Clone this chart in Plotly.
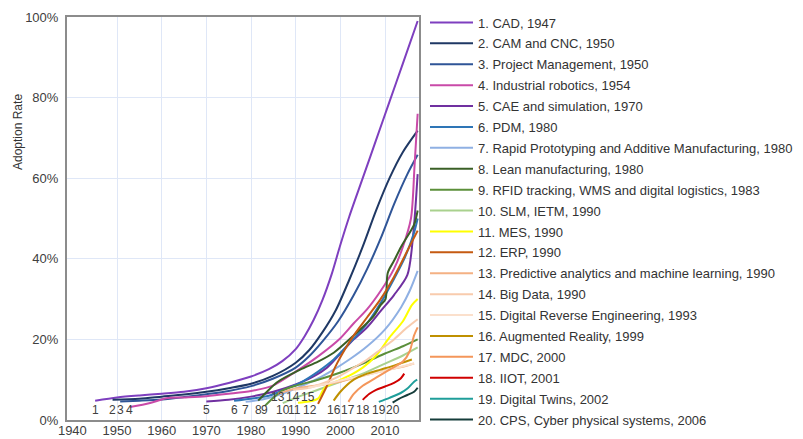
import plotly.graph_objects as go

# ---------------- data ----------------
names = [
    "1. CAD, 1947", "2. CAM and CNC, 1950", "3. Project Management, 1950",
    "4. Industrial robotics, 1954", "5. CAE and simulation, 1970", "6. PDM, 1980",
    "7. Rapid Prototyping and Additive Manufacturing, 1980", "8. Lean manufacturing, 1980",
    "9. RFID tracking, WMS and digital logistics, 1983", "10. SLM, IETM, 1990",
    "11. MES, 1990", "12. ERP, 1990", "13. Predictive analytics and machine learning, 1990",
    "14. Big Data, 1990", "15. Digital Reverse Engineering, 1993", "16. Augmented Reality, 1999",
    "17. MDC, 2000", "18. IIOT, 2001", "19. Digital Twins, 2002",
    "20. CPS, Cyber physical systems, 2006",
]

x1 = [1945.1, 1950, 1955, 1960, 1965, 1970, 1975, 1980, 1984, 1987, 1990, 1992, 1994, 1996, 1998, 2000, 2002, 2005, 2008, 2011, 2014, 2017.3]
y1 = [4.8, 5.6, 6.1, 6.5, 7.0, 7.9, 9.2, 10.8, 12.6, 14.6, 17.6, 20.8, 24.8, 29.8, 36.0, 43.5, 50.5, 60.0, 69.5, 79.0, 88.5, 99.0]

x2 = [1949, 1955, 1960, 1965, 1970, 1975, 1980, 1985, 1990, 1993, 1996, 1999, 2002, 2005, 2008, 2011, 2014, 2017.3]
y2 = [5.0, 5.3, 5.8, 6.3, 7.0, 7.9, 9.0, 11.0, 14.2, 17.3, 21.8, 27.3, 34.8, 43.0, 52.0, 60.0, 66.5, 71.8]

x3 = [1950.7, 1955, 1960, 1965, 1970, 1975, 1980, 1985, 1990, 1993, 1996, 1999.5, 2003, 2006, 2009, 2012, 2015, 2017.3]
y3 = [4.6, 4.8, 5.1, 5.7, 6.4, 7.2, 8.4, 10.3, 13.0, 15.8, 19.5, 24.5, 31.0, 37.5, 45.0, 53.5, 61.0, 65.8]

x4 = [1952.9, 1957.4, 1961, 1965, 1970, 1975, 1980, 1985, 1990, 1995, 2000, 2003, 2006, 2009, 2012, 2014, 2015.8, 2016.6, 2017.3]
y4 = [3.2, 4.2, 5.4, 5.6, 5.9, 6.5, 7.2, 8.6, 12.0, 15.8, 20.3, 24.0, 27.5, 32.0, 37.5, 43.0, 50.0, 63.0, 76.0]

x5 = [1970, 1975, 1980, 1985, 1990, 1994, 1997, 2000, 2003, 2006, 2009, 2012, 2015, 2016.3, 2017.3]
y5 = [4.6, 5.0, 5.8, 7.0, 8.8, 10.8, 13.0, 16.5, 20.0, 23.0, 27.0, 31.0, 36.0, 46.0, 61.0]

x6 = [1976.2, 1980, 1984, 1988, 1991, 1995, 1998.5, 2002, 2006, 2009, 2012, 2014.5, 2016.5, 2017.3]
y6 = [4.8, 5.3, 6.0, 7.8, 9.2, 12.0, 15.0, 19.0, 24.0, 29.0, 35.0, 40.5, 46.5, 50.0]

x7 = [1978.8, 1983, 1987, 1991, 1995, 1998.5, 2002, 2006, 2010, 2013.6, 2015.5, 2017.3]
y7 = [4.5, 5.2, 6.5, 8.3, 10.3, 12.5, 15.0, 18.3, 22.5, 28.0, 32.0, 37.0]

x8 = [1981.6, 1984, 1986, 1991, 1995, 1998.5, 2003, 2007.4, 2009, 2010.1, 2010.6, 2012, 2013.6, 2016.5, 2017.3]
y8 = [4.8, 7.5, 9.5, 12.5, 14.5, 16.7, 21.0, 25.7, 28.5, 30.0, 36.5, 39.5, 43.0, 48.5, 52.0]

x9 = [1983.1, 1985, 1987, 1990, 1995, 2000, 2005, 2010, 2014, 2017.3]
y9 = [3.5, 5.5, 7.3, 8.5, 10.0, 11.8, 14.0, 16.5, 18.3, 20.0]

x10 = [1987.1, 1990, 1995, 2000, 2005, 2010, 2014, 2017.3]
y10 = [4.2, 5.5, 7.5, 9.5, 11.5, 14.0, 16.0, 18.0]

x11 = [1990.5, 1993, 1995, 1996.5, 1999, 2002, 2005, 2008, 2011, 2014, 2016, 2017.3]
y11 = [4.3, 4.6, 5.3, 8.0, 9.5, 11.0, 13.0, 16.0, 20.5, 24.5, 28.5, 30.0]

x12 = [1995, 1997, 1999, 2001, 2003, 2006, 2009, 2012, 2015, 2017.3]
y12 = [4.0, 8.5, 13.5, 17.5, 21.0, 25.5, 30.0, 35.5, 42.0, 47.0]

x13 = [1986.1, 1990, 1995, 2000, 2005, 2010, 2014, 2016.5]
y13 = [6.5, 7.8, 8.6, 9.5, 11.0, 12.3, 13.2, 14.0]

x14 = [1989.4, 1993, 1997, 2000, 2003, 2006, 2009, 2012, 2015, 2017.3]
y14 = [7.5, 8.0, 9.5, 11.0, 13.0, 15.0, 17.5, 20.0, 23.0, 25.0]

x15 = [1992.8, 1997, 2002, 2007, 2012, 2016.5]
y15 = [8.0, 9.0, 10.3, 11.5, 12.8, 14.0]

x16 = [1998.5, 2000, 2003, 2006, 2009, 2012, 2016]
y16 = [4.8, 7.0, 10.0, 11.5, 12.5, 13.5, 15.0]

x17 = [2001.8, 2003, 2005, 2008, 2011, 2014, 2015.5, 2016.5, 2017.3]
y17 = [4.5, 6.5, 8.5, 10.5, 12.5, 14.5, 17.0, 21.0, 23.0]

x18 = [2005, 2006.5, 2008, 2010, 2012, 2013.5, 2014.3]
y18 = [5.0, 6.5, 7.5, 8.3, 9.2, 10.3, 11.5]

x19 = [2008.6, 2011, 2013.5, 2015, 2016.5, 2017.2]
y19 = [4.5, 5.5, 6.7, 7.8, 9.5, 10.0]

x20 = [2011.7, 2013, 2015, 2016.5, 2017.3]
y20 = [4.3, 5.2, 6.2, 7.0, 8.0]

label_text = [str(i) for i in range(1, 21)]
label_x = [1945.1, 1948.9, 1950.7, 1952.9, 1970.0, 1976.2, 1978.8, 1981.6, 1983.1, 1987.1,
           1989.8, 1993.3, 1986.1, 1989.4, 1992.8, 1998.5, 2001.8, 2005.0, 2008.6, 2011.7]
label_y = [2.5] * 12 + [5.7] * 3 + [2.5] * 5

x_ticks = [1940, 1950, 1960, 1970, 1980, 1990, 2000, 2010]
y_ticks = [0, 20, 40, 60, 80, 100]
y_ticktext = ["0%", "20%", "40%", "60%", "80%", "100%"]

# ---------------- styles ----------------
colors = ["#7e3fbf", "#1f3864", "#2f5597", "#c94aa8", "#7030a0", "#2e75b6", "#8fb0e3",
          "#3a5f26", "#5b8f3a", "#a9d18e", "#ffff00", "#c55a11", "#f4b183", "#f8cbad",
          "#fbe0cc", "#bf9000", "#f4965a", "#d00000", "#1f9e9a", "#153c3a"]

xs = [x1, x2, x3, x4, x5, x6, x7, x8, x9, x10, x11, x12, x13, x14, x15, x16, x17, x18, x19, x20]
ys = [y1, y2, y3, y4, y5, y6, y7, y8, y9, y10, y11, y12, y13, y14, y15, y16, y17, y18, y19, y20]

FONT = "Liberation Sans"

fig = go.Figure()
for i, (nm, xx, yy, c) in enumerate(zip(names, xs, ys, colors)):
    fig.add_trace(go.Scatter(
        x=xx, y=yy, mode="lines", name=nm, legendgroup=f"g{i}",
        line=dict(color=c, width=2, shape="spline", smoothing=0.8),
    ))

for t, lx, ly in zip(label_text, label_x, label_y):
    fig.add_annotation(x=lx, y=ly, text=t, showarrow=False,
                       font=dict(size=12, color="#404040", family=FONT))

PW, PL, PT, PB = 352, 67, 17, 420
PH = PB - PT

fig.add_annotation(xref="paper", yref="paper", x=(18 - PL) / PW, y=(PB - 132) / PH,
                   xanchor="center", yanchor="middle", text="Adoption Rate",
                   textangle=-90, showarrow=False,
                   font=dict(size=12, color="#333333", family=FONT))

fig.update_layout(
    template="none",
    width=803, height=439,
    margin=dict(l=PL, r=803 - PL - PW, t=PT, b=439 - PB, autoexpand=False),
    paper_bgcolor="white", plot_bgcolor="white",
    font=dict(family=FONT, color="#333333"),
    showlegend=True,
    legend=dict(x=(425 - PL) / PW, y=(PB - 7.5) / PH, xanchor="left", yanchor="top",
                font=dict(size=13, color="#333333", family=FONT),
                tracegroupgap=1, itemwidth=43, bgcolor="rgba(0,0,0,0)",
                borderwidth=0, maxheight=600),
    xaxis=dict(range=[1938.8, 2017.6], tickvals=x_ticks, showgrid=False, zeroline=False,
               showline=True, mirror=True, linecolor="#8c8c8c", linewidth=2,
               ticks="", ticklabelstandoff=-3,
               tickfont=dict(size=13, color="#404040"), automargin=False,
               minor=dict(tickvals=x_ticks[1:], showgrid=True, gridcolor="#dfe7f7", gridwidth=1)),
    yaxis=dict(range=[0, 100], tickvals=y_ticks, ticktext=y_ticktext, showgrid=True,
               gridcolor="#dfe7f7", gridwidth=1, zeroline=False,
               showline=True, mirror=True, linecolor="#8c8c8c", linewidth=2,
               ticks="outside", ticklen=4, tickcolor="rgba(0,0,0,0)",
               tickfont=dict(size=13, color="#404040"), automargin=False),
)

fig.write_html("out.html", config={"displayModeBar": False},
               post_script="document.body.style.margin='0px';")
